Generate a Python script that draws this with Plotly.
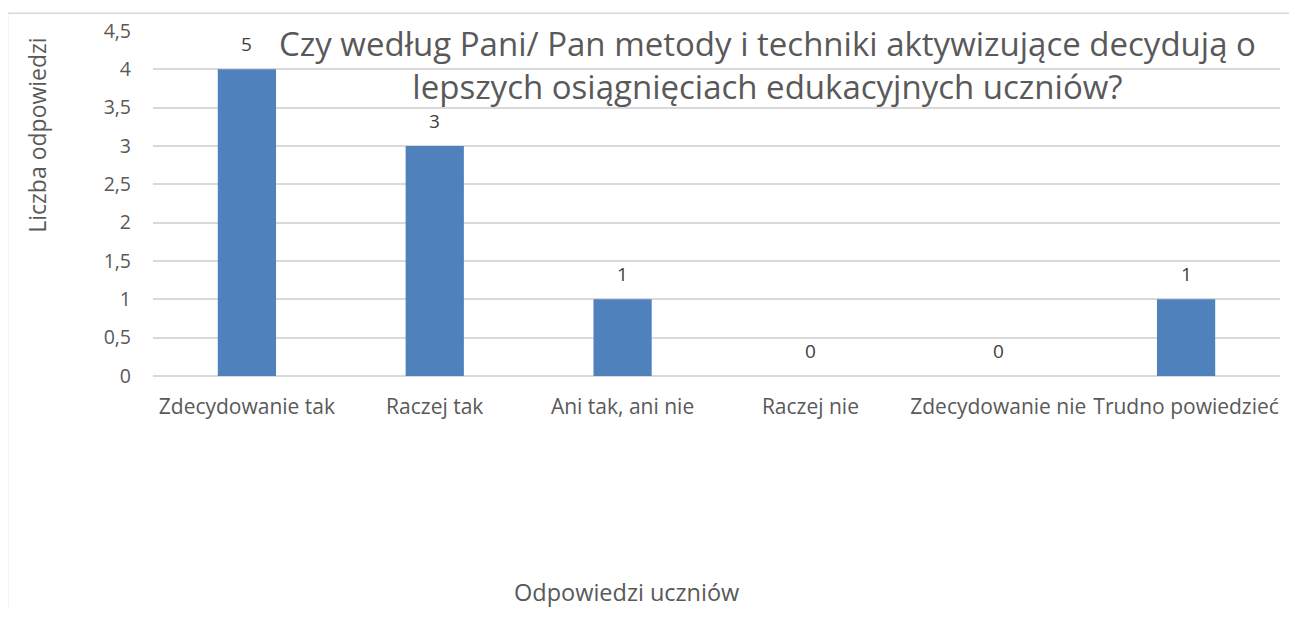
import plotly.graph_objects as go

categories = ["Zdecydowanie tak", "Raczej tak", "Ani tak, ani nie", "Raczej nie",
              "Zdecydowanie nie", "Trudno powiedzieć"]
bar_values = [4, 3, 1, 0, 0, 1]
label_texts = ["5", "3", "1", "0", "0", "1"]
y_tickvals = [0, 0.5, 1, 1.5, 2, 2.5, 3, 3.5, 4, 4.5]
y_ticktext = ["0", "0,5", "1", "1,5", "2", "2,5", "3", "3,5", "4", "4,5"]
title_lines = ["Czy według Pani/ Pan metody i techniki aktywizujące decydują o",
               "lepszych osiągnięciach edukacyjnych uczniów?"]
y_title = "Liczba odpowiedzi"
x_title = "Odpowiedzi uczniów"

FONT = "Open Sans"
OFF = 8  # body margin of the html page
W, H = 1281, 601
# plot area in page pixels
PL, PR, PT, PB = 153, 1280, 27, 376
L = PL - OFF
R = W - (PR - OFF)
T = PT - OFF
B = H - (PB - OFF)
pw = PR - PL
ph = PB - PT


def px_x(x):
    return (x - PL) / pw


def px_y(y):
    return (PB - y) / ph


fig = go.Figure()
fig.add_trace(go.Bar(x=categories, y=bar_values, marker_color="#4f81bd",
                     marker_line_width=0, hoverinfo="skip"))

annotations = []
for c, v, t in zip(categories, bar_values, label_texts):
    annotations.append(dict(x=c, y=v, xref="x", yref="y", text=t, showarrow=False,
                            yshift=25, font=dict(family=FONT, size=19, color="#404040")))

annotations.append(dict(x=px_x(767), y=px_y(61), xref="paper", yref="paper",
                        text="<br>".join(title_lines), showarrow=False,
                        xanchor="center", yanchor="middle",
                        font=dict(family=FONT, size=33, color="#595959")))
annotations.append(dict(x=px_x(37), y=px_y(133), xref="paper", yref="paper",
                        text=y_title, showarrow=False, textangle=-90,
                        xanchor="center", yanchor="middle",
                        font=dict(family=FONT, size=23, color="#595959")))
annotations.append(dict(x=px_x(626), y=px_y(595), xref="paper", yref="paper",
                        text=x_title, showarrow=False, xanchor="center", yanchor="middle",
                        font=dict(family=FONT, size=23.5, color="#595959")))

fig.update_layout(
    width=W, height=H,
    margin=dict(l=L, r=R, t=T, b=B, pad=0),
    paper_bgcolor="white", plot_bgcolor="white",
    showlegend=False,
    bargap=0.69,
    annotations=annotations,
    shapes=[dict(type="rect", xref="paper", yref="paper",
                 x0=px_x(7.5), x1=px_x(1320), y0=px_y(660), y1=px_y(9),
                 line=dict(color="#d9d9d9", width=1.5), fillcolor="rgba(0,0,0,0)",
                 layer="below")],
)
fig.update_xaxes(showgrid=False, showline=False, zeroline=False, ticks="",
                 tickfont=dict(family=FONT, size=21, color="#595959"),
                 ticklabelstandoff=16)
fig.update_yaxes(range=[0, 4.5], tickvals=y_tickvals, ticktext=y_ticktext,
                 showgrid=True, gridcolor="#d9d9d9", gridwidth=1.5,
                 zeroline=True, zerolinecolor="#d9d9d9", zerolinewidth=1.5,
                 showline=False, ticks="",
                 tickfont=dict(family=FONT, size=19.5, color="#595959"),
                 ticklabelstandoff=21)

fig.write_html("out.html")
